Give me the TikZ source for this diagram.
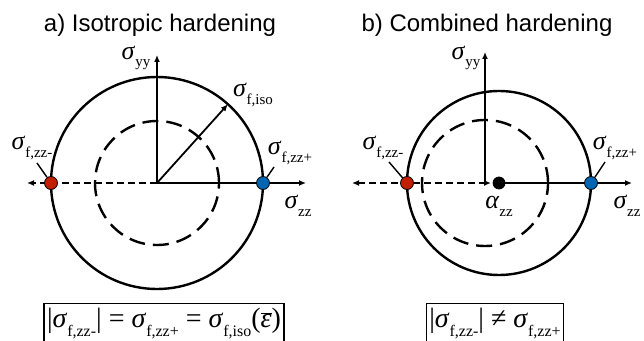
\documentclass[tikz,border=0pt]{standalone}
\usepackage{fontspec}
\setmainfont{Liberation Serif}
\newfontfamily\headfont{Liberation Sans}
\usetikzlibrary{arrows.meta}
\definecolor{ptred}{RGB}{192,32,0}
\definecolor{ptblue}{RGB}{0,102,178}
\newcommand{\subsz}{15}
\newcommand{\lo}[1]{\raisebox{-0.3em}{\fontsize{\subsz}{\subsz}\selectfont #1}}
\newcommand{\sgm}[1]{\textit{σ}\lo{#1}}

\begin{document}
\begin{tikzpicture}[x=1pt,y=1pt,>={Latex[length=7pt,width=6pt]},
 lbl/.style={inner sep=0pt,font=\fontsize{26}{26}\selectfont},
 ttl/.style={font=\headfont\fontsize{24}{24}\selectfont},
 eq/.style={draw,line width=1.2pt,inner xsep=3pt,inner ysep=0pt,anchor=north,minimum height=40pt,
  font=\fontsize{28}{28}\selectfont\renewcommand\subsz{16}},
 yld/.style={line width=2.4pt},
 sub/.style={line width=2.4pt,dash pattern=on 16pt off 8pt},
 ax/.style={line width=1.8pt},
 axd/.style={line width=1.8pt,dash pattern=on 7pt off 4pt},
 lead/.style={line width=1.4pt},
 dot/.style={circle,draw,line width=0.8pt,minimum size=13pt,inner sep=0pt}]
\useasboundingbox (0,0) rectangle (644,340);

% a) isotropic
\node[ttl] (ta) at (160,315) {a) Isotropic hardening};
\coordinate (o1) at (157,157);
\draw[yld] (o1) circle (106);
\draw[sub] (o1) circle (62);
\coordinate (yt1) at (157,285);
\coordinate (xl1) at (27,157);
\coordinate (xr1) at (306,157);
\draw[ax,->] (o1) -- (yt1);
\draw[axd,->] (o1) -- (xl1);
\draw[ax,->] (o1) -- (xr1);
\draw[ax,->] (o1) -- +(48:106) coordinate (iso);
\node[dot,fill=ptred] (m1) at (51,157) {};
\node[dot,fill=ptblue] (p1) at (263,157) {};
\node[lbl] (lyy1) at (136,282) {\sgm{yy}};
\node[lbl] (liso) at (253,245) {\sgm{f,iso}};
\node[lbl] (lm1) at (32,192) {\sgm{f,zz-}};
\node[lbl] (lp1) at (290,187) {\sgm{f,zz+}};
\node[lbl] (lzz1) at (298,134) {\sgm{zz}};
\coordinate (cm1) at (37,177);
\coordinate (cp1) at (274,173);
\draw[lead] (m1) -- (cm1);
\draw[lead] (p1) -- (cp1);
\node[eq,minimum width=232pt] (eqa) at (164,37)
 {|\sgm{f,zz-}| = \sgm{f,zz+} = \sgm{f,iso}($\overline{\mbox{\itshape ε}}$)};

% b) combined
\node[ttl] (tb) at (487,315) {b) Combined hardening};
\coordinate (o2) at (485,157);
\coordinate (al) at (499,157);
\draw[yld] (al) circle (92);
\draw[sub] (o2) circle (63);
\coordinate (yt2) at (485,288);
\coordinate (xl2) at (352,157);
\coordinate (xe2) at (491,157);
\coordinate (xr2) at (632,157);
\draw[ax,->] (o2) -- (yt2);
\draw[axd,<->] (xl2) -- (xe2);
\draw[ax,->] (al) -- (xr2);
\node[dot,fill=black,minimum size=12pt] (a2) at (al) {};
\node[dot,fill=ptred] (m2) at (407,157) {};
\node[dot,fill=ptblue] (p2) at (591,157) {};
\node[lbl] (lyy2) at (466,282) {\sgm{yy}};
\node[lbl] (lm2) at (383,192) {\sgm{f,zz-}};
\node[lbl] (lp2) at (615,192) {\sgm{f,zz+}};
\node[lbl] (lzz2) at (627,134) {\sgm{zz}};
\node[lbl] (lal) at (499,134) {\textit{α}\lo{zz}};
\coordinate (cm2) at (389,178);
\coordinate (cp2) at (605,178);
\draw[lead] (m2) -- (cm2);
\draw[lead] (p2) -- (cp2);
\node[eq,minimum width=130pt] (eqb) at (495,37)
 {|\sgm{f,zz-}| ≠ \sgm{f,zz+}};
\end{tikzpicture}
\end{document}
